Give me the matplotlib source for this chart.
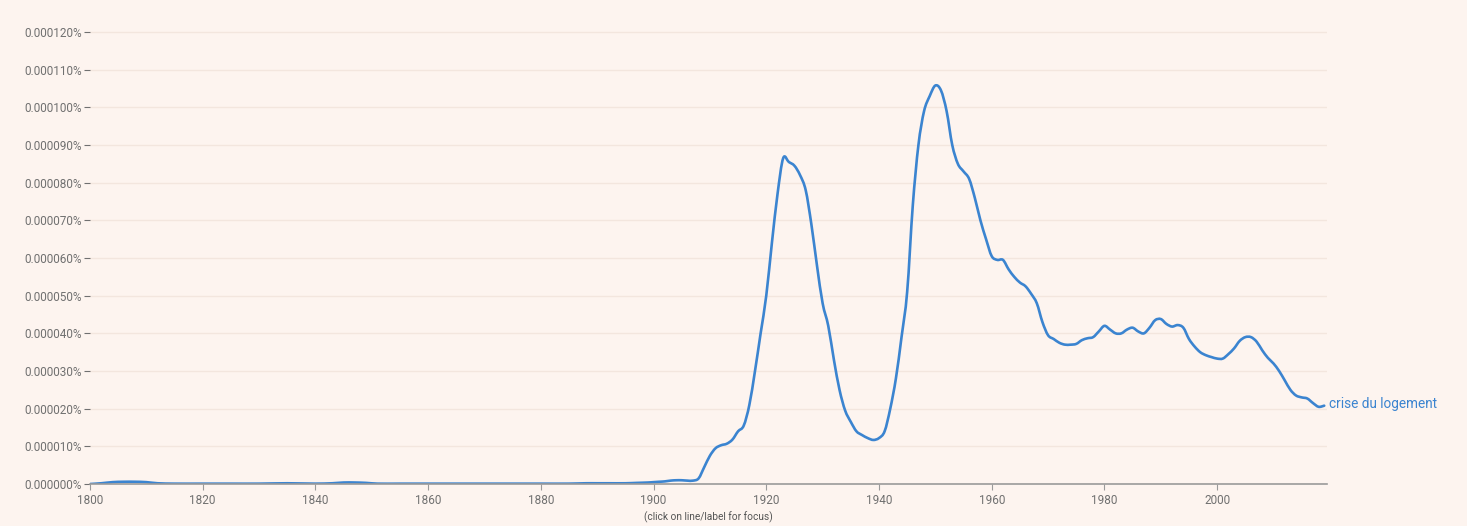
import matplotlib.pyplot as plt
import numpy as np
from matplotlib.path import Path
from matplotlib.patches import PathPatch
from matplotlib.ticker import FuncFormatter

plt.rcParams['font.family'] = ['Roboto', 'DejaVu Sans']

# Ngram frequency of "crise du logement", values in units of 1e-6 %
early_years = [1800, 1802, 1804, 1806, 1808, 1810, 1812, 1815, 1820, 1825, 1830, 1835, 1840,
               1843, 1845, 1847, 1849, 1851, 1855, 1860, 1865, 1870, 1875, 1880, 1885,
               1888, 1890, 1892, 1895, 1897, 1899]
early_values = [0.0, 0.02, 0.05, 0.06, 0.06, 0.05, 0.02, 0.01, 0.01, 0.01, 0.01, 0.02, 0.01,
                0.02, 0.04, 0.04, 0.03, 0.01, 0.01, 0.01, 0.01, 0.01, 0.01, 0.01, 0.01,
                0.02, 0.02, 0.02, 0.02, 0.03, 0.04]

late_years = list(range(1900, 2020))
late_values = [
    0.05, 0.06, 0.07, 0.09, 0.10, 0.10, 0.09, 0.09, 0.15, 0.45,   # 1900s
    0.75, 0.95, 1.03, 1.07, 1.18, 1.40, 1.55, 2.10, 3.00, 4.00,   # 1910s
    5.00, 6.40, 7.70, 8.65, 8.55, 8.45, 8.20, 7.80, 6.90, 5.80,   # 1920s
    4.80, 4.20, 3.30, 2.50, 1.95, 1.65, 1.40, 1.30, 1.22, 1.17,   # 1930s
    1.22, 1.40, 2.00, 2.80, 3.90, 5.10, 7.40, 9.00, 9.90, 10.30,  # 1940s
    10.58, 10.45, 9.90, 9.00, 8.50, 8.30, 8.10, 7.60, 7.00, 6.50, # 1950s
    6.05, 5.95, 5.95, 5.70, 5.50, 5.35, 5.25, 5.05, 4.80, 4.30,   # 1960s
    3.95, 3.85, 3.75, 3.70, 3.70, 3.72, 3.82, 3.87, 3.90, 4.05,   # 1970s
    4.20, 4.10, 4.00, 4.00, 4.10, 4.15, 4.05, 4.00, 4.15, 4.35,   # 1980s
    4.38, 4.25, 4.18, 4.22, 4.15, 3.85, 3.65, 3.50, 3.42, 3.37,   # 1990s
    3.33, 3.33, 3.45, 3.60, 3.80, 3.90, 3.90, 3.78, 3.55, 3.35,   # 2000s
    3.20, 3.00, 2.75, 2.50, 2.35, 2.30, 2.27, 2.15, 2.05, 2.08,   # 2010s
]

years = early_years + late_years
values = early_values + late_values
series_label = "crise du logement"

y_ticks = np.arange(0, 13, 1)
x_ticks = np.arange(1800, 2020, 20)

bg = "#fdf4ef"
line_color = "#3b84d0"
grey = "#707070"


def smooth_path(xs, ys):
    # cubic bezier segments through the data points (catmull-rom style)
    xs = np.asarray(xs, float)
    ys = np.asarray(ys, float)
    verts = [(xs[0], ys[0])]
    codes = [Path.MOVETO]
    n = len(xs)
    for i in range(n - 1):
        i0, i3 = max(i - 1, 0), min(i + 2, n - 1)
        dx1 = (xs[i + 1] - xs[i0]) / 6.0
        dy1 = (ys[i + 1] - ys[i0]) / 6.0
        dx2 = (xs[i3] - xs[i]) / 6.0
        dy2 = (ys[i3] - ys[i]) / 6.0
        # keep control points inside the segment in x
        seg = xs[i + 1] - xs[i]
        s1 = min(1.0, seg / (3 * abs(dx1))) if dx1 else 1.0
        s2 = min(1.0, seg / (3 * abs(dx2))) if dx2 else 1.0
        verts += [(xs[i] + dx1 * s1, ys[i] + dy1 * s1),
                  (xs[i + 1] - dx2 * s2, ys[i + 1] - dy2 * s2),
                  (xs[i + 1], ys[i + 1])]
        codes += [Path.CURVE4] * 3
    return Path(verts, codes)


fig = plt.figure(figsize=(14.67, 5.26), dpi=100, facecolor=bg)
ax = fig.add_axes([0.0613, 0.0798, 0.8433, 0.8808], facecolor=bg)

ax.add_patch(PathPatch(smooth_path(years, values), facecolor="none",
                       edgecolor=line_color, linewidth=1.9, capstyle="round",
                       joinstyle="round"))

ax.set_xlim(1800, 2019.5)
ax.set_ylim(0, 12.3)

ax.set_yticks(y_ticks)
ax.yaxis.set_major_formatter(FuncFormatter(lambda v, p: f"{v * 1e-5:.6f}%"))
ax.set_xticks(x_ticks)

ax.grid(axis="y", color="#f3e6de", linewidth=1.0)
ax.set_axisbelow(True)

for s in ["top", "right", "left"]:
    ax.spines[s].set_visible(False)
ax.spines["bottom"].set_color("#9a9a9a")
ax.spines["bottom"].set_linewidth(1.2)

ax.tick_params(axis="y", length=4, width=0.8, color=grey, labelcolor=grey,
               labelsize=8.5, pad=2)
ax.tick_params(axis="x", length=4, width=0.8, color="#9a9a9a", labelcolor=grey,
               labelsize=8.5, pad=3)

ax.text(years[-1] + 0.8, values[-1] + 0.05, series_label, color=line_color,
        fontsize=9.8, va="center", ha="left")

fig.text(0.4827, 0.006, "(click on line/label for focus)", color="#555555",
         fontsize=7.3, ha="center", va="bottom")

fig.savefig("out.png", dpi=100, facecolor=bg)
